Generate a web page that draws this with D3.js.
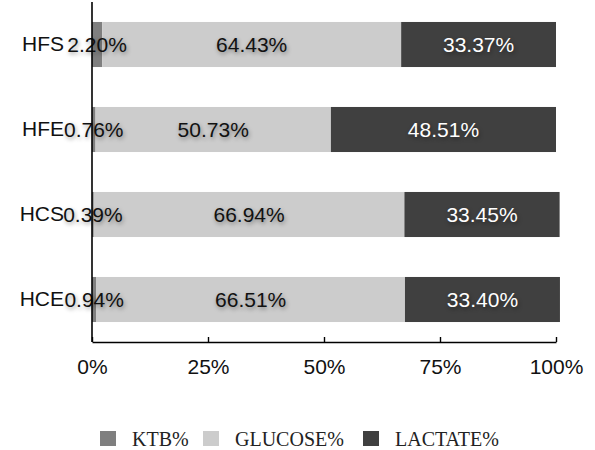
<!DOCTYPE html>
<html>
<head>
<meta charset="utf-8">
<script src="https://cdn.jsdelivr.net/npm/d3@7"></script>
<style>
  html, body { margin: 0; padding: 0; background: #fff; }
  svg { display: block; }
  .value-label { text-shadow: 1px 2px 4px rgba(0,0,0,0.4); }
</style>
</head>
<body>
<svg id="chart" width="595" height="450"></svg>
<script>
// Groups, top to bottom
const categories = ["HFS", "HFE", "HCS", "HCE"];
// Series (percent of total)
const seriesNames = ["KTB%", "GLUCOSE%", "LACTATE%"];
const ktb = [2.20, 0.76, 0.39, 0.94];
const glucose = [64.43, 50.73, 66.94, 66.51];
const lactate = [33.37, 48.51, 33.45, 33.40];
const xTicks = [0, 25, 50, 75, 100];

const colors = ["#7f7f7f", "#cccccc", "#404040"];
const labelColors = ["#111", "#111", "#fff"];

const rows = categories.map((c, i) => ({
  cat: c, "KTB%": ktb[i], "GLUCOSE%": glucose[i], "LACTATE%": lactate[i]
}));

const svg = d3.select("#chart");
const plotLeft = 92, plotRight = 556, plotTop = 2, plotBottom = 342;

const x = d3.scaleLinear().domain([0, 100]).range([plotLeft, plotRight]);
const y = d3.scaleBand().domain(categories).range([plotTop, plotBottom])
  .paddingInner(0.47).paddingOuter(0.235);

const stacked = d3.stack().keys(seriesNames)(rows);

const groups = svg.append("g").selectAll("g")
  .data(stacked).join("g")
  .attr("fill", (d, i) => colors[i]);

groups.selectAll("rect")
  .data(d => d)
  .join("rect")
  .attr("x", d => x(d[0]))
  .attr("width", d => x(d[1]) - x(d[0]))
  .attr("y", d => y(d.data.cat))
  .attr("height", y.bandwidth());

// Value labels centred in each segment
const font = "'Liberation Sans', Arial, Helvetica, sans-serif";
stacked.forEach((s, si) => {
  svg.append("g").selectAll("text")
    .data(s).join("text")
    .attr("class", "value-label")
    .attr("x", d => (x(d[0]) + x(d[1])) / 2)
    .attr("y", d => y(d.data.cat) + y.bandwidth() / 2)
    .attr("dy", "0.36em")
    .attr("text-anchor", "middle")
    .attr("font-family", font)
    .attr("font-size", 21)
    .attr("fill", labelColors[si])
    .text(d => d.data[s.key].toFixed(2) + "%");
});

// X axis
const xAxis = svg.append("g")
  .attr("transform", `translate(0,${plotBottom})`)
  .call(d3.axisBottom(x).tickValues(xTicks).tickFormat(d => d + "%")
    .tickSizeInner(-5).tickSizeOuter(0).tickPadding(17));
xAxis.select(".domain").attr("stroke", "#000").attr("stroke-width", 1.6);
xAxis.selectAll(".tick line").attr("stroke", "#000").attr("stroke-width", 1.4);
xAxis.selectAll(".tick text")
  .attr("font-family", font).attr("font-size", 21).attr("fill", "#111");

// Y axis
const yAxis = svg.append("g")
  .attr("transform", `translate(${plotLeft},0)`)
  .call(d3.axisLeft(y).tickSize(0).tickPadding(28));
yAxis.select(".domain").attr("stroke", "#000").attr("stroke-width", 1.6)
  .attr("d", `M0,${plotTop}V${plotBottom}`);
yAxis.selectAll(".tick text")
  .attr("font-family", font).attr("font-size", 21).attr("fill", "#111");

// Legend
const legendX = [100, 203, 363];
const legend = svg.append("g").selectAll("g")
  .data(seriesNames).join("g")
  .attr("transform", (d, i) => `translate(${legendX[i]},431)`);
legend.append("rect")
  .attr("width", 16).attr("height", 15)
  .attr("fill", (d, i) => colors[i]);
legend.append("text")
  .attr("x", 32).attr("y", 7.5).attr("dy", "0.35em")
  .attr("font-family", "'Liberation Serif', 'Times New Roman', serif")
  .attr("font-size", 20).attr("fill", "#222")
  .text(d => d);
</script>
</body>
</html>
